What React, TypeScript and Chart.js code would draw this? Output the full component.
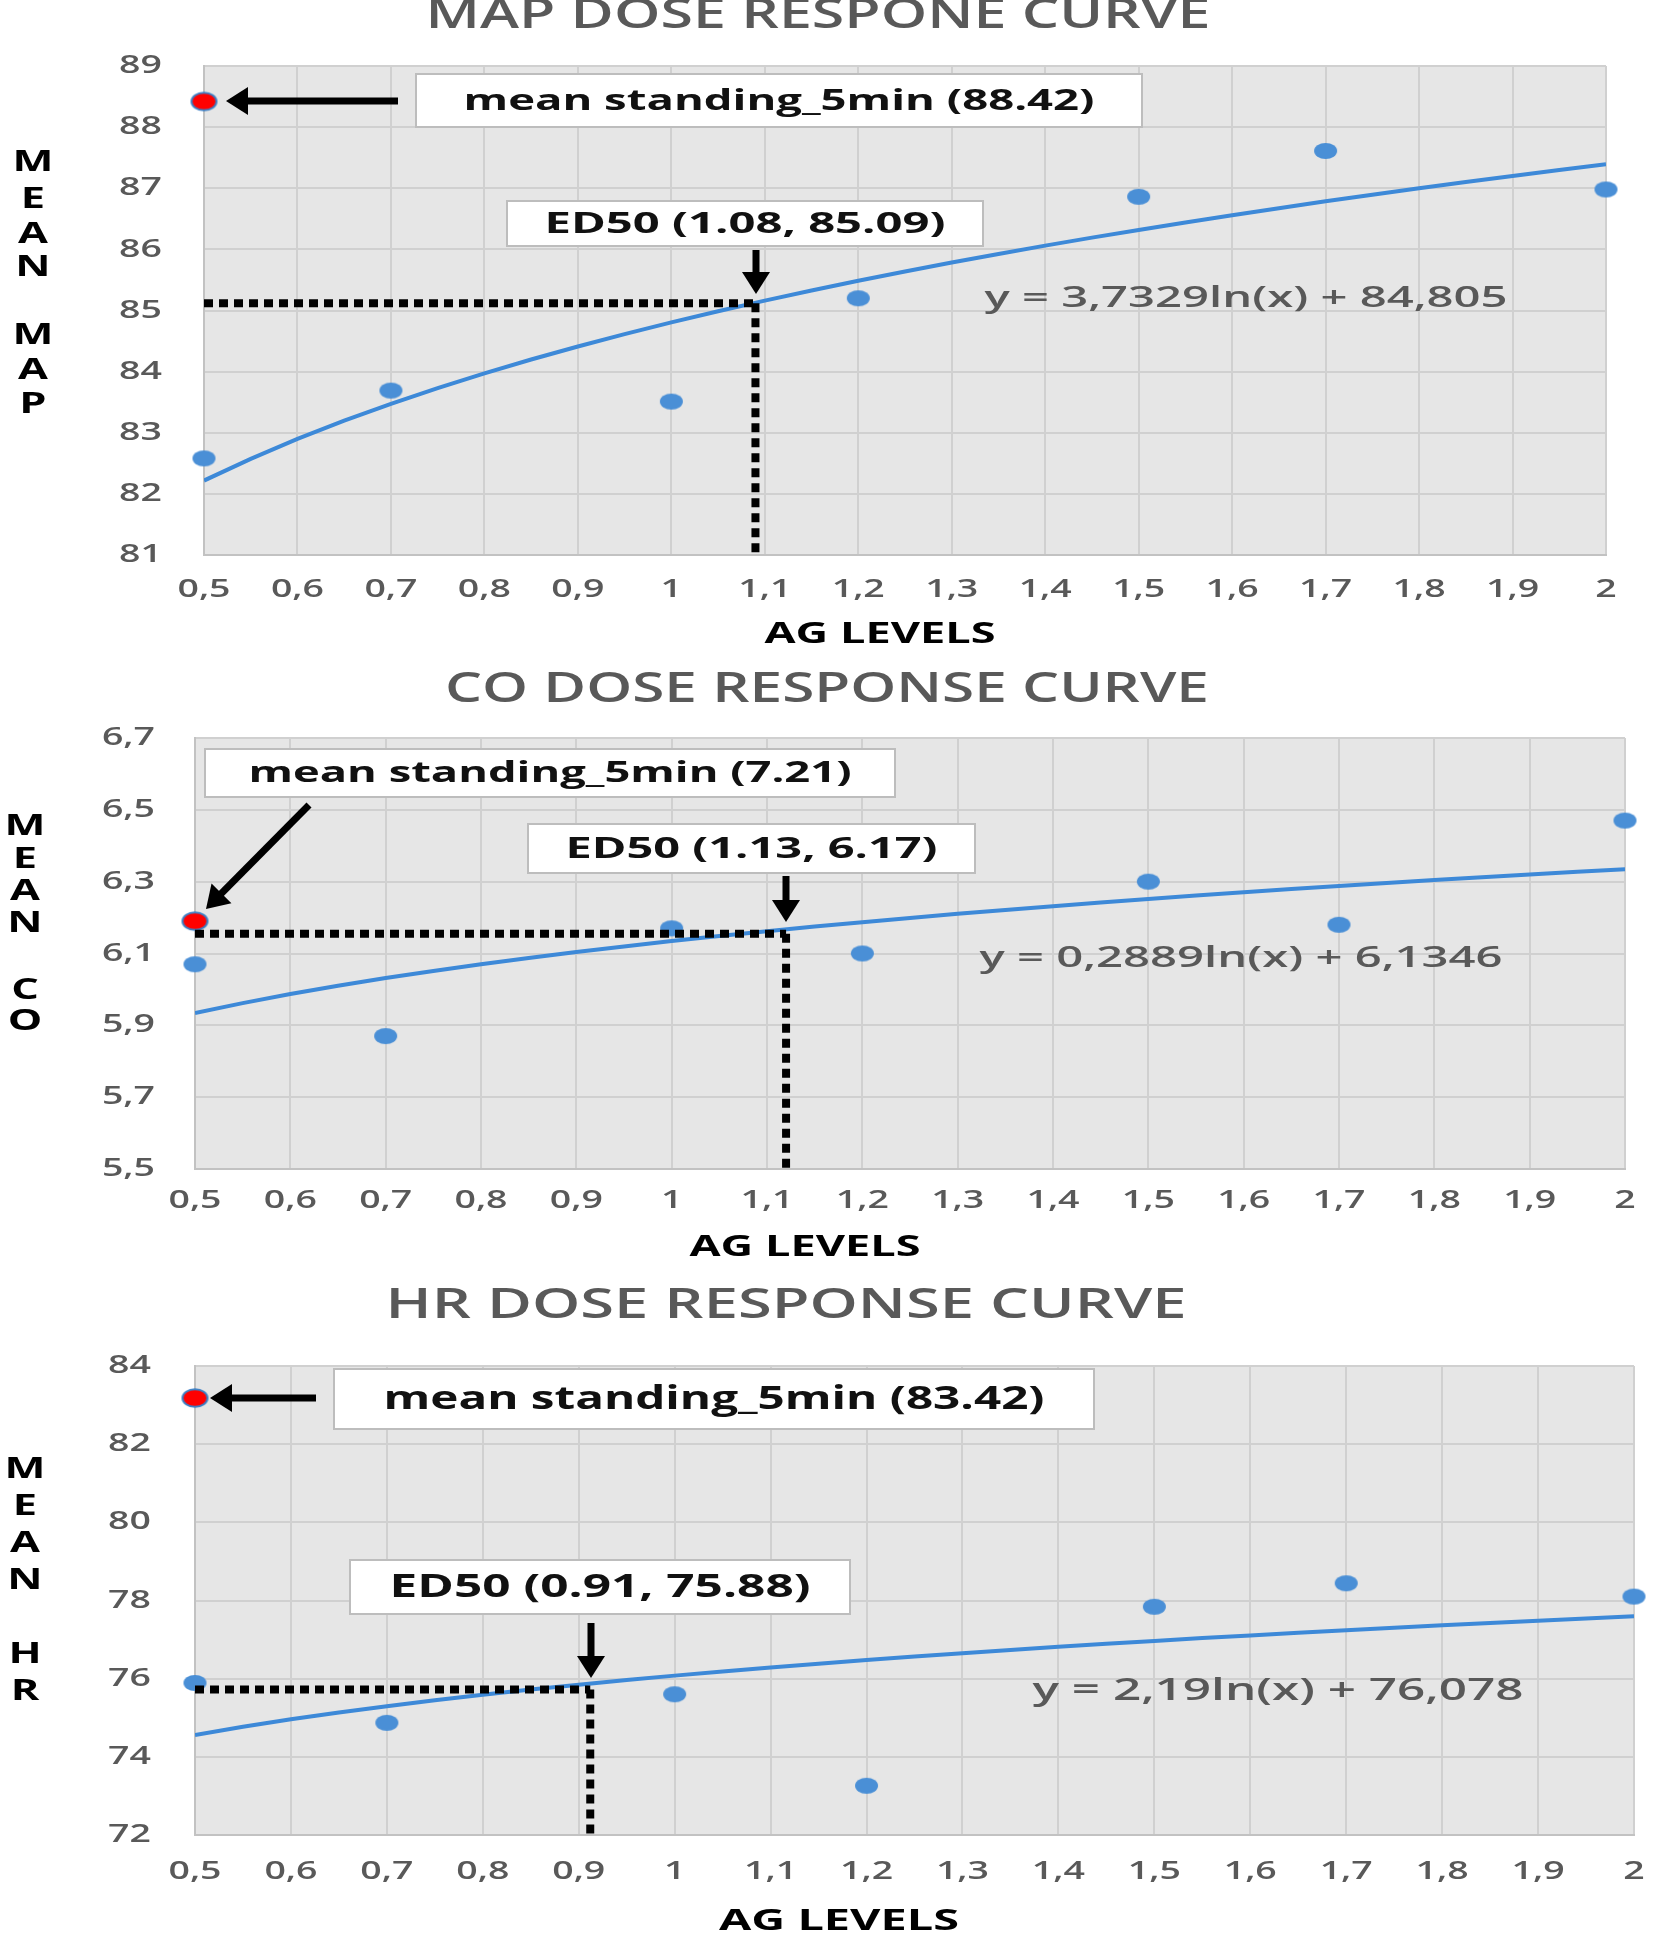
import React, { useEffect, useRef } from "react";
import { Chart, registerables } from "chart.js";

Chart.register(...registerables);

// ---------------- DATA ----------------
const AG_LEVELS = [0.5, 0.7, 1, 1.2, 1.5, 1.7, 2];

const MAP_VALUES = [82.58, 83.69, 83.51, 85.2, 86.86, 87.61, 86.98];
const CO_VALUES = [6.07, 5.87, 6.17, 6.1, 6.3, 6.18, 6.47];
const HR_VALUES = [75.89, 74.87, 75.6, 73.26, 77.84, 78.44, 78.1];

// mean standing_5min markers (position as drawn in the picture)
const MAP_STANDING = { x: 0.5, y: 88.42 };
const CO_STANDING = { x: 0.5, y: 6.19 };
const HR_STANDING = { x: 0.5, y: 83.18 };

// ED50 guide-line positions (as drawn)
const MAP_ED50 = { x: 1.09, y: 85.12 };
const CO_ED50 = { x: 1.12, y: 6.155 };
const HR_ED50 = { x: 0.912, y: 75.72 };

// logarithmic trendline coefficients printed on the chart: y = a ln(x) + b
const MAP_TREND = [3.7329, 84.805];
const CO_TREND = [0.2889, 6.1346];
const HR_TREND = [2.19, 76.078];

// sample positions along the x axis for drawing the printed trendline equation
const TREND_XS = [
  0.5, 0.55, 0.6, 0.65, 0.7, 0.75, 0.8, 0.85, 0.9, 0.95, 1, 1.05, 1.1, 1.15,
  1.2, 1.25, 1.3, 1.35, 1.4, 1.45, 1.5, 1.55, 1.6, 1.65, 1.7, 1.75, 1.8, 1.85,
  1.9, 1.95, 2,
];

const X_TICK_LABELS = [
  "0,5", "0,6", "0,7", "0,8", "0,9", "1", "1,1", "1,2", "1,3", "1,4", "1,5",
  "1,6", "1,7", "1,8", "1,9", "2",
];
const MAP_Y_TICK_LABELS = ["81", "82", "83", "84", "85", "86", "87", "88", "89"];
const CO_Y_TICK_LABELS = ["5,5", "5,7", "5,9", "6,1", "6,3", "6,5", "6,7"];
const HR_Y_TICK_LABELS = ["72", "74", "76", "78", "80", "82", "84"];

// ---------------- LAYOUT / STYLE ----------------
const W = 1655;
const TICK_SX = 1.5; // horizontal stretch of the original picture's lettering
const LETTER_SX = 1.55;
const GREY = "#595959";
const BLUE = "#4a8fd6";

type Layout = {
  top: number;
  height: number;
  area: { left: number; right: number; top: number; bottom: number };
  y: { min: number; max: number; step: number; labels: string[] };
  values: number[];
  standing: { x: number; y: number };
  ed50: { x: number; y: number };
  trend: number[];
  title: { text: string; cx: number; cy: number; w: number };
  yTickRight: number;
  xTickY: number;
  xTitle: { cx: number; cy: number; w: number };
  yLetters: { x: number; letters: string[]; ys: number[] };
  standBox: { x: number; y: number; w: number; h: number; text: string; tw: number; size: number };
  standArrow: number[];
  edBox: { x: number; y: number; w: number; h: number; text: string; tw: number; size: number };
  edArrow: number[];
  eq: { text: string; cx: number; cy: number; w: number; size: number };
};

const CHARTS: Layout[] = [
  {
    top: 0,
    height: 660,
    area: { left: 204, right: 1606, top: 66, bottom: 555 },
    y: { min: 81, max: 89, step: 1, labels: MAP_Y_TICK_LABELS },
    values: MAP_VALUES,
    standing: MAP_STANDING,
    ed50: MAP_ED50,
    trend: MAP_TREND,
    title: { text: "MAP DOSE RESPONE CURVE", cx: 818, cy: 16, w: 785 },
    yTickRight: 162,
    xTickY: 590,
    xTitle: { cx: 880, cy: 635, w: 231 },
    yLetters: { x: 33, letters: ["M", "E", "A", "N", "M", "A", "P"], ys: [163, 200, 235, 268, 336, 371, 405] },
    standBox: { x: 416, y: 74, w: 726, h: 53, text: "mean standing_5min (88.42)", tw: 631, size: 29 },
    standArrow: [398, 101, 226, 101],
    edBox: { x: 507, y: 201, w: 476, h: 45, text: "ED50 (1.08, 85.09)", tw: 401, size: 29 },
    edArrow: [756, 250, 756, 294],
    eq: { text: "y = 3,7329ln(x) + 84,805", cx: 1246, cy: 299, w: 523, size: 29 },
  },
  {
    top: 660,
    height: 620,
    area: { left: 195, right: 1625, top: 78, bottom: 509 },
    y: { min: 5.5, max: 6.7, step: 0.2, labels: CO_Y_TICK_LABELS },
    values: CO_VALUES,
    standing: CO_STANDING,
    ed50: CO_ED50,
    trend: CO_TREND,
    title: { text: "CO DOSE RESPONSE CURVE", cx: 827, cy: 30, w: 764 },
    yTickRight: 155,
    xTickY: 541,
    xTitle: { cx: 805, cy: 588, w: 231 },
    yLetters: { x: 25, letters: ["M", "E", "A", "N", "C", "O"], ys: [167, 200, 232, 264, 331, 362] },
    standBox: { x: 205, y: 89, w: 690, h: 48, text: "mean standing_5min (7.21)", tw: 603, size: 29 },
    standArrow: [309, 145, 206, 249],
    edBox: { x: 528, y: 164, w: 447, h: 49, text: "ED50 (1.13, 6.17)", tw: 372, size: 29 },
    edArrow: [786, 216, 786, 262],
    eq: { text: "y = 0,2889ln(x) + 6,1346", cx: 1241, cy: 299, w: 523, size: 29 },
  },
  {
    top: 1280,
    height: 659,
    area: { left: 195, right: 1634, top: 86, bottom: 555 },
    y: { min: 72, max: 84, step: 2, labels: HR_Y_TICK_LABELS },
    values: HR_VALUES,
    standing: HR_STANDING,
    ed50: HR_ED50,
    trend: HR_TREND,
    title: { text: "HR DOSE RESPONSE CURVE", cx: 786, cy: 26, w: 801 },
    yTickRight: 151,
    xTickY: 592,
    xTitle: { cx: 839, cy: 642, w: 240 },
    yLetters: { x: 25, letters: ["M", "E", "A", "N", "H", "R"], ys: [190, 227, 264, 301, 375, 412] },
    standBox: { x: 334, y: 89, w: 760, h: 60, text: "mean standing_5min (83.42)", tw: 661, size: 32 },
    standArrow: [316, 118, 210, 118],
    edBox: { x: 350, y: 280, w: 500, h: 54, text: "ED50 (0.91, 75.88)", tw: 421, size: 32 },
    edArrow: [591, 343, 591, 398],
    eq: { text: "y = 2,19ln(x) + 76,078", cx: 1278, cy: 411, w: 491, size: 30 },
  },
];

// ---------------- HELPERS ----------------
function ellipseImage(rx: number, ry: number, fill: string, stroke?: string, lw = 0) {
  const c = document.createElement("canvas");
  c.width = Math.ceil(2 * rx + 2 * lw + 2);
  c.height = Math.ceil(2 * ry + 2 * lw + 2);
  const g = c.getContext("2d")!;
  g.beginPath();
  g.ellipse(c.width / 2, c.height / 2, rx, ry, 0, 0, Math.PI * 2);
  g.fillStyle = fill;
  g.fill();
  if (stroke) {
    g.lineWidth = lw;
    g.strokeStyle = stroke;
    g.stroke();
  }
  return c;
}

function drawText(
  ctx: CanvasRenderingContext2D,
  text: string,
  x: number,
  y: number,
  font: string,
  color: string,
  align: CanvasTextAlign,
  opts: { sx?: number; width?: number } = {}
) {
  ctx.save();
  ctx.font = font;
  let sx = opts.sx ?? 1;
  if (opts.width) {
    const m = ctx.measureText(text).width;
    sx = opts.width / m;
  }
  ctx.translate(x, y);
  ctx.scale(sx, 1);
  ctx.textAlign = align;
  ctx.textBaseline = "middle";
  ctx.fillStyle = color;
  ctx.fillText(text, 0, 0);
  ctx.restore();
}

function drawArrow(ctx: CanvasRenderingContext2D, a: number[]) {
  const [x1, y1, x2, y2] = a;
  const ang = Math.atan2(y2 - y1, x2 - x1);
  const hl = 22;
  const hw = 14;
  const bx = x2 - hl * Math.cos(ang);
  const by = y2 - hl * Math.sin(ang);
  ctx.save();
  ctx.strokeStyle = "#000";
  ctx.fillStyle = "#000";
  ctx.lineWidth = 7;
  ctx.lineCap = "butt";
  ctx.beginPath();
  ctx.moveTo(x1, y1);
  ctx.lineTo(bx + 2 * Math.cos(ang), by + 2 * Math.sin(ang));
  ctx.stroke();
  ctx.beginPath();
  ctx.moveTo(x2, y2);
  ctx.lineTo(bx - hw * Math.sin(ang), by + hw * Math.cos(ang));
  ctx.lineTo(bx + hw * Math.sin(ang), by - hw * Math.cos(ang));
  ctx.closePath();
  ctx.fill();
  ctx.restore();
}

function drawBox(ctx: CanvasRenderingContext2D, b: Layout["standBox"]) {
  ctx.save();
  ctx.fillStyle = "#ffffff";
  ctx.fillRect(b.x, b.y, b.w, b.h);
  ctx.strokeStyle = "#bdbdbd";
  ctx.lineWidth = 2;
  ctx.strokeRect(b.x, b.y, b.w, b.h);
  ctx.restore();
  drawText(ctx, b.text, b.x + b.w / 2, b.y + b.h / 2 + 1, `bold ${b.size}px "Open Sans"`, "#111", "center", { width: b.tw });
}

// ---------------- CHART ----------------
function DoseChart({ cfg }: { cfg: Layout }) {
  const ref = useRef<HTMLCanvasElement | null>(null);

  useEffect(() => {
    const canvas = ref.current;
    if (!canvas) return;
    const blueDot = ellipseImage(11.5, 8, BLUE);
    const redDot = ellipseImage(12.5, 8.8, "#ff0000", "#3c7fc4", 2);
    const [a, b] = cfg.trend;

    const annot = {
      id: "doseAnnot",
      beforeDraw(chart: any) {
        const { ctx, chartArea } = chart;
        ctx.save();
        ctx.fillStyle = "#ffffff";
        ctx.fillRect(0, 0, chart.width, chart.height);
        ctx.fillStyle = "#e6e6e6";
        ctx.fillRect(chartArea.left, chartArea.top, chartArea.right - chartArea.left, chartArea.bottom - chartArea.top);
        ctx.restore();
      },
      afterDatasetsDraw(chart: any) {
        const { ctx, chartArea } = chart;
        const xs = chart.scales.x;
        const ys = chart.scales.y;
        const px = xs.getPixelForValue(cfg.ed50.x);
        const py = ys.getPixelForValue(cfg.ed50.y);
        const x0 = xs.getPixelForValue(cfg.standing.x);
        ctx.save();
        ctx.strokeStyle = "#000";
        ctx.lineWidth = 8;
        ctx.setLineDash([9, 6]);
        ctx.beginPath();
        ctx.moveTo(x0, py);
        ctx.lineTo(px, py);
        ctx.stroke();
        ctx.beginPath();
        ctx.moveTo(px, py);
        ctx.lineTo(px, chartArea.bottom);
        ctx.stroke();
        ctx.restore();
      },
      afterDraw(chart: any) {
        const { ctx } = chart;
        const xs = chart.scales.x;
        const ys = chart.scales.y;

        // tick labels
        xs.ticks.forEach((t: any, i: number) => {
          drawText(ctx, X_TICK_LABELS[i] ?? "", xs.getPixelForValue(t.value), cfg.xTickY, `600 25px "Open Sans"`, GREY, "center", { sx: TICK_SX });
        });
        ys.ticks.forEach((t: any, i: number) => {
          drawText(ctx, cfg.y.labels[i] ?? "", cfg.yTickRight, ys.getPixelForValue(t.value), `600 25px "Open Sans"`, GREY, "right", { sx: TICK_SX });
        });

        // titles
        drawText(ctx, cfg.title.text, cfg.title.cx, cfg.title.cy, `600 42px "Open Sans"`, GREY, "center", { width: cfg.title.w });
        drawText(ctx, "AG LEVELS", cfg.xTitle.cx, cfg.xTitle.cy, `bold 28px "Open Sans"`, "#000", "center", { width: cfg.xTitle.w });
        cfg.yLetters.letters.forEach((l, i) => {
          drawText(ctx, l, cfg.yLetters.x, cfg.yLetters.ys[i], `bold 28px "Open Sans"`, "#000", "center", { sx: LETTER_SX });
        });

        // annotations
        drawBox(ctx, cfg.standBox);
        drawArrow(ctx, cfg.standArrow);
        drawBox(ctx, cfg.edBox);
        drawArrow(ctx, cfg.edArrow);
        drawText(ctx, cfg.eq.text, cfg.eq.cx, cfg.eq.cy, `600 ${cfg.eq.size}px "Open Sans"`, GREY, "center", { width: cfg.eq.w });
      },
    };

    const chart = new Chart(canvas, {
      type: "scatter",
      data: {
        datasets: [
          {
            type: "scatter",
            label: "standing",
            data: [{ x: cfg.standing.x, y: cfg.standing.y }],
            pointStyle: redDot as any,
            clip: false as any,
            order: 1,
          },
          {
            type: "scatter",
            label: "mean",
            data: AG_LEVELS.map((x, i) => ({ x, y: cfg.values[i] })),
            pointStyle: blueDot as any,
            clip: false as any,
            order: 2,
          },
          {
            type: "line",
            label: "trend",
            data: TREND_XS.map((x) => ({ x, y: a * Math.log(x) + b })),
            borderColor: "#3d89d8",
            borderWidth: 4,
            pointRadius: 0,
            fill: false,
            order: 3,
          } as any,
        ],
      },
      options: {
        animation: false,
        responsive: false,
        devicePixelRatio: 1,
        events: [],
        layout: {
          padding: {
            left: cfg.area.left,
            right: W - cfg.area.right,
            top: cfg.area.top,
            bottom: cfg.height - cfg.area.bottom,
          },
        },
        plugins: {
          legend: { display: false },
          title: { display: false },
          tooltip: { enabled: false },
        },
        scales: {
          x: {
            type: "linear",
            min: 0.5,
            max: 2,
            ticks: { stepSize: 0.1, display: false },
            grid: { color: "#d0d0d0", lineWidth: 2, drawTicks: false },
            border: { color: "#c2c2c2", width: 2 },
            afterFit: (s: any) => {
              s.height = 0;
            },
          },
          y: {
            type: "linear",
            min: cfg.y.min,
            max: cfg.y.max,
            ticks: { stepSize: cfg.y.step, display: false },
            grid: { color: "#d0d0d0", lineWidth: 2, drawTicks: false },
            border: { color: "#c2c2c2", width: 2 },
            afterFit: (s: any) => {
              s.width = 0;
            },
          },
        },
      },
      plugins: [annot],
    });
    return () => chart.destroy();
  }, [cfg]);

  return (
    <canvas
      ref={ref}
      width={W}
      height={cfg.height}
      style={{ position: "absolute", left: 0, top: cfg.top, width: W, height: cfg.height, display: "block" }}
    />
  );
}

export default function App() {
  return (
    <div style={{ position: "absolute", left: 0, top: 0, width: W, height: 1939, background: "#fff", overflow: "hidden" }}>
      {CHARTS.map((c, i) => (
        <DoseChart key={i} cfg={c} />
      ))}
    </div>
  );
}
